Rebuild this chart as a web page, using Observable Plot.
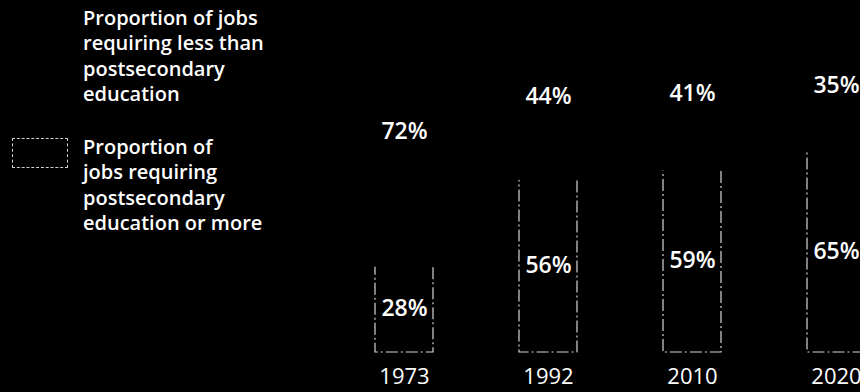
<!DOCTYPE html>
<html>
<head>
<meta charset="utf-8">
<script src="https://cdn.jsdelivr.net/npm/d3@7"></script>
<script src="https://cdn.jsdelivr.net/npm/@observablehq/plot@0.6"></script>
<style>
  html, body { margin: 0; padding: 0; background: #000; }
  #wrap { position: relative; width: 860px; height: 392px; overflow: hidden; background: #000; }
  #chart { position: absolute; left: 0; top: 0; }
  .leg { position: absolute; color: #fff; font-family: "Open Sans", sans-serif; font-weight: 600; font-size: 20px; line-height: 25.3px; white-space: nowrap; }
  .sw { position: absolute; box-sizing: border-box; }
</style>
</head>
<body>
<div id="wrap">
  <div id="chart"></div>
  <div class="sw" style="left:12px; top:10px; width:56px; height:30px; background:#000;"></div>
  <div class="leg" id="leg1" style="left:83px; top:5px;"></div>
  <div class="sw" style="left:12px; top:138px; width:56px; height:30px; border:1px dashed #d0d0d0;"></div>
  <div class="leg" id="leg2" style="left:83px; top:134px;"></div>
</div>
<script>
const years = ["1973", "1992", "2010", "2020"];
const postsecondary = [28, 56, 59, 65];
const lessThanPostsecondary = [72, 44, 41, 35];
const legendLabels = [
  ["Proportion of jobs", "requiring less than", "postsecondary", "education"],
  ["Proportion of", "jobs requiring", "postsecondary", "education or more"]
];

document.getElementById("leg1").innerHTML = legendLabels[0].join("<br>");
document.getElementById("leg2").innerHTML = legendLabels[1].join("<br>");

const rows = years.map((year, i) => ({
  year,
  post: postsecondary[i],
  less: lessThanPostsecondary[i]
}));

const font = "'Open Sans', sans-serif";

const chart = Plot.plot({
  width: 860,
  height: 392,
  marginTop: 42,
  marginBottom: 40,
  marginLeft: 0,
  marginRight: 0,
  style: { background: "#000", color: "#fff", fontFamily: font, overflow: "hidden" },
  x: { type: "band", domain: years, range: [331, 909], paddingInner: 0.6, paddingOuter: 0.3, axis: null },
  y: { domain: [0, 100], axis: null },
  marks: [
    Plot.barY(rows, {
      x: "year", y1: 0, y2: "post",
      fill: "none", stroke: "#d6d6d6", strokeWidth: 1.2, strokeDasharray: "12,3,2,3"
    }),
    Plot.barY(rows, {
      x: "year", y1: "post", y2: d => d.post + d.less,
      fill: "#000", stroke: "#000", strokeWidth: 3
    }),
    Plot.text(rows, {
      x: "year", y: d => d.post / 2, text: d => d.post + "%",
      fill: "#fff", fontSize: 23, fontWeight: 600
    }),
    Plot.text(rows, {
      x: "year", y: d => d.post + 0.6 * d.less, text: d => d.less + "%",
      fill: "#fff", fontSize: 23, fontWeight: 600
    }),
    Plot.text(rows, {
      x: "year", text: "year", frameAnchor: "bottom", lineAnchor: "top", dy: 16,
      fill: "#fff", fontSize: 22, fontWeight: 400
    })
  ]
});
document.getElementById("chart").appendChild(chart);
</script>
</body>
</html>
